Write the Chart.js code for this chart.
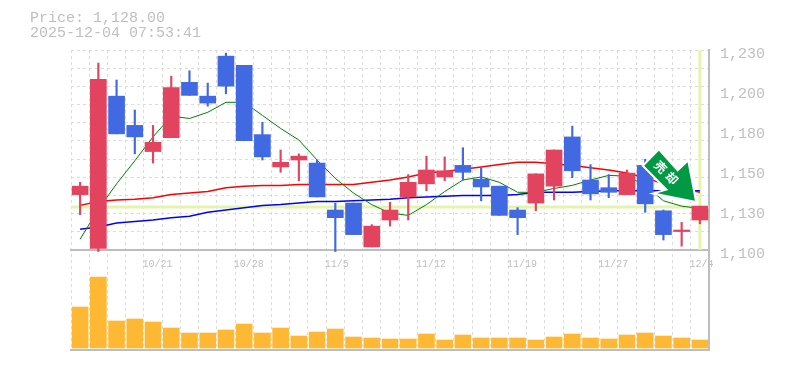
<!DOCTYPE html>
<html>
<head>
<meta charset="utf-8">
<style>
  html, body { margin: 0; padding: 0; background: #fff; }
  #wrap { width: 785px; height: 370px; position: relative; }
</style>
<script src="https://cdn.jsdelivr.net/npm/chart.js@4"></script>
</head>
<body>
<div id="wrap"><canvas id="stockChart" width="785" height="370"></canvas></div>
<script>
const dates = ['10/15','10/16','10/17','10/20','10/21','10/22','10/23','10/24','10/27','10/28',
  '10/29','10/30','10/31','11/4','11/5','11/6','11/7','11/10','11/11','11/12',
  '11/13','11/14','11/17','11/18','11/19','11/20','11/21','11/25','11/26','11/27',
  '11/28','12/1','12/2','12/3','12/4'];
const labelledDates = ['10/21','10/28','11/5','11/12','11/19','11/27','12/4'];

const opens  = [1136,1101,1200,1181,1164,1173,1209,1200,1226,1220,1175,1154,1158.5,1156.5,1126,1130.5,1102,1119.5,1134.5,1143,1147.5,1155,1146,1141.5,1126,1130.5,1141.5,1173.5,1145.5,1140.5,1136,1155,1125.5,1112,1119.5];
const closes = [1141.5,1211,1175.5,1173.5,1170,1205.5,1200.5,1195.5,1206.5,1171,1160.5,1157,1161,1134.5,1121,1110,1115.5,1126,1144,1152,1151.5,1150.5,1141,1122.5,1121,1149.5,1165,1151.5,1136.5,1137.5,1150,1130,1110,1113,1128.5];
const highs  = [1144,1221.5,1210.5,1191,1181,1213,1216.5,1208.5,1228,1220,1183,1165,1162.5,1158.5,1130.5,1130.5,1116.5,1131,1149,1161,1160.5,1166.5,1153.5,1141.5,1127.5,1149.5,1165,1180.5,1155.5,1149,1152,1159,1126,1118,1128.5];
const lows   = [1123,1099,1175.5,1162.5,1156.5,1173,1200.5,1193.5,1201.5,1171,1158.5,1150.5,1145,1134.5,1099,1110,1102,1115.5,1119.5,1138.5,1145,1145.5,1132,1122.5,1110,1125.5,1132.5,1147,1132.5,1134,1136,1124.5,1106.5,1102.5,1117];

const ma5  = [1107,1126.5,1143,1158,1173.5,1187,1185.5,1189.5,1196,1196,1187.5,1179,1171.5,1158.5,1146.5,1137,1129.5,1124,1122.5,1129.5,1138,1145.5,1147.5,1144,1137.5,1137.5,1140,1142,1145.5,1148.5,1148,1142,1132,1128.5,1127];
const ma25 = [1129,1131.5,1132.5,1133,1134,1136,1137,1138,1140.5,1141.5,1142,1142,1142.5,1142.5,1142.5,1142.5,1144,1145.5,1147.5,1150,1151,1152.5,1154,1155.5,1157,1157,1156,1155,1153.5,1152,1150,1147,1143,1140,1137.5];
const ma75 = [1113.5,1115,1117.5,1118.5,1119.5,1121,1122,1124.5,1126,1127.5,1129,1129.5,1130.5,1131.5,1131.5,1132,1132.5,1133,1134,1134.5,1135,1135.5,1135.5,1135.5,1136,1137.5,1137.5,1137.5,1138,1138.5,1138.5,1138.5,1138.5,1138.5,1138.5];

const volumes = [41,71,27,29,26,20,15,15,18,24,15,20,12,16,19,11,10,9,9,14,8,13,10,10,10,8,11,14,10,9,13,15,12,10,8];

const priceTickValues = [1230,1204,1178,1152,1126,1100];
const priceTickLabels = ['1,230','1,200','1,180','1,150','1,130','1,100'];
const gridStep = 130 / 11;
const lastPrice = 1128;
const headerLines = ['Price: 1,128.00', '2025-12-04 07:53:41'];
const signalChars = ['売', '却'];

const UP = '#e2445f';
const DOWN = '#4169e1';
const GRID = '#dcdcdc';
const AXIS = '#bdbdbd';
const TEXT = '#bfbfbf';
const MONO = '"Liberation Mono", monospace';

const candleColors = opens.map((o, i) => closes[i] >= o ? UP : DOWN);

// price panel takes the top 200px of the 300px plot, volume sits in the rest
const priceMin = 1230 - 300 * 0.65;

const extras = {
    id: 'extras',
    beforeDatasetsDraw(chart) {
        const { ctx, chartArea, scales } = chart;
        const yNow = scales.y.getPixelForValue(lastPrice);
        const xNow = scales.x.getPixelForValue(dates.length - 1);
        ctx.save();
        ctx.strokeStyle = '#e3f5a9';
        ctx.lineWidth = 3;
        ctx.beginPath();
        ctx.moveTo(chartArea.left, yNow);
        ctx.lineTo(chartArea.right, yNow);
        ctx.moveTo(xNow, chartArea.top);
        ctx.lineTo(xNow, scales.y.getPixelForValue(1100));
        ctx.stroke();
        ctx.restore();
    },
    afterDatasetsDraw(chart) {
        const { ctx, scales } = chart;
        // arrow hangs off the last candle
        const tx = scales.x.getPixelForValue(dates.length - 1) - 5;
        const ty = scales.y.getPixelForValue(closes[closes.length - 1]) - 5.5;
        const shape = [[-36,-50],[-50.7,-35],[-26.7,-10.6],[-37.7,-7.3],[0,0],[-7.3,-38.3],[-17.3,-29]];
        ctx.save();
        ctx.beginPath();
        shape.forEach((p, i) => i ? ctx.lineTo(tx + p[0], ty + p[1]) : ctx.moveTo(tx + p[0], ty + p[1]));
        ctx.closePath();
        ctx.lineJoin = 'miter';
        ctx.lineWidth = 4;
        ctx.strokeStyle = '#fff';
        ctx.stroke();
        ctx.fillStyle = '#009944';
        ctx.fill();
        ctx.translate(tx - 28.5, ty - 28);
        ctx.rotate(Math.PI / 4);
        ctx.fillStyle = '#fff';
        ctx.font = 'bold 12px "Noto Sans CJK JP"';
        ctx.textAlign = 'center';
        ctx.textBaseline = 'middle';
        ctx.fillText(signalChars[0], -8, 0);
        ctx.fillText(signalChars[1], 8, 0);
        ctx.restore();

        // header text top left
        ctx.save();
        ctx.fillStyle = TEXT;
        ctx.font = '15px ' + MONO;
        ctx.textBaseline = 'middle';
        headerLines.forEach((t, i) => ctx.fillText(t, 30, 18 + i * 15));
        ctx.restore();
    }
};

new Chart(document.getElementById('stockChart'), {
    data: {
        labels: dates,
        datasets: [
            { type: 'bar', data: opens.map((o, i) => [o, closes[i]]), backgroundColor: candleColors, barThickness: 16, grouped: false, order: 1, yAxisID: 'y' },
            { type: 'bar', data: lows.map((l, i) => [l, highs[i]]), backgroundColor: candleColors, barThickness: 1.5, grouped: false, order: 2, yAxisID: 'y' },
            { type: 'bar', data: volumes, backgroundColor: '#ffb833', barThickness: 16, grouped: false, order: 3, yAxisID: 'yVol' },
            { type: 'line', data: ma5, borderColor: '#008000', borderWidth: 1, pointRadius: 0, tension: 0, order: 4, yAxisID: 'y' },
            { type: 'line', data: ma25, borderColor: '#ff0000', borderWidth: 1.5, pointRadius: 0, tension: 0, order: 5, yAxisID: 'y' },
            { type: 'line', data: ma75, borderColor: '#0000ff', borderWidth: 1.5, pointRadius: 0, tension: 0, order: 6, yAxisID: 'y' }
        ]
    },
    options: {
        responsive: false,
        animation: false,
        layout: { padding: { left: 71, top: 50, bottom: 20, right: 0 } },
        plugins: { legend: { display: false }, title: { display: false }, tooltip: { enabled: false } },
        scales: {
            x: {
                position: { y: 1100 },
                offset: true,
                grid: { color: GRID, offset: true, drawTicks: false },
                border: { color: AXIS, width: 2, dash: [3, 3] },
                ticks: {
                    autoSkip: false,
                    maxRotation: 0,
                    align: 'start',
                    labelOffset: -10.5,
                    color: TEXT,
                    padding: 8,
                    font: { family: MONO, size: 10 },
                    callback: function (value) {
                        const d = dates[value];
                        return labelledDates.includes(d) ? d : '';
                    }
                }
            },
            xBase: {
                position: 'bottom',
                type: 'category',
                labels: dates,
                grid: { display: false },
                border: { color: AXIS, width: 2 },
                ticks: { display: false },
                afterFit: function (axis) { axis.height = 0; }
            },
            y: {
                position: 'left',
                min: priceMin,
                max: 1230,
                grid: { color: GRID, drawTicks: false },
                border: { display: false, dash: [3, 3] },
                ticks: { display: false },
                afterBuildTicks: function (axis) {
                    const t = [];
                    for (let i = 0; i <= 11; i++) t.push({ value: 1230 - i * gridStep });
                    axis.ticks = t;
                },
                afterFit: function (axis) { axis.width = 0; }
            },
            yLabels: {
                position: 'right',
                // shifted so the text sits just under its nominal height
                min: priceMin + 2.65,
                max: 1232.65,
                grid: { display: false, drawTicks: false },
                border: { color: AXIS, width: 2 },
                ticks: {
                    color: TEXT,
                    padding: 11,
                    font: { family: MONO, size: 15 },
                    callback: function (value) {
                        return priceTickLabels[priceTickValues.indexOf(value)];
                    }
                },
                afterBuildTicks: function (axis) {
                    axis.ticks = priceTickValues.map(v => ({ value: v }));
                },
                afterFit: function (axis) { axis.width = 76; }
            },
            yVol: {
                display: false,
                min: -2,
                max: 298
            }
        }
    },
    plugins: [extras]
});
</script>
</body>
</html>
